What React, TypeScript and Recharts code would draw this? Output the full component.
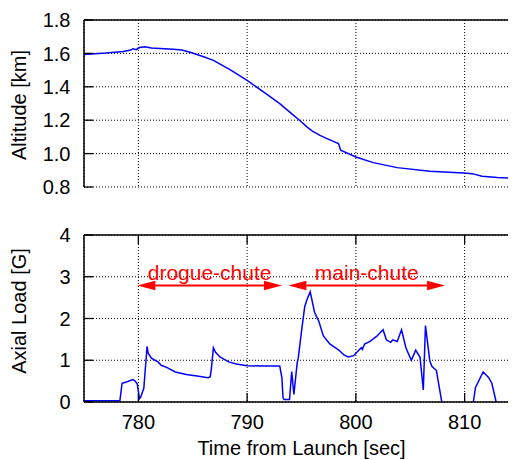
import { LineChart, Line, XAxis, YAxis, CartesianGrid, ReferenceLine } from 'recharts'

// altitude record (time from launch [sec], altitude [km])
const altTime = [775, 777, 778.6, 779.3, 779.5, 779.8, 780.1, 780.6, 781.2, 783.2, 784, 784.75, 786, 786.9, 788.5, 790, 791.5, 793, 794, 794.9, 795.5, 796, 796.7, 797.5, 798.4, 798.6, 800, 801.6, 803.8, 806.8, 809.9, 810.7, 811.6, 813, 815]
const altValue = [1.594, 1.602, 1.612, 1.62, 1.628, 1.622, 1.635, 1.64, 1.633, 1.625, 1.62, 1.607, 1.58, 1.558, 1.5, 1.438, 1.37, 1.299, 1.244, 1.195, 1.16, 1.135, 1.109, 1.085, 1.06, 1.02, 0.98, 0.946, 0.916, 0.894, 0.884, 0.88, 0.864, 0.857, 0.85]

// axial load record (time from launch [sec], load [G])
const loadTime = [775, 778.3, 778.5, 778.9, 779.5, 779.7, 779.9, 780.1, 780.2, 780.5, 780.8, 780.9, 781.2, 781.8, 782.1, 782.6, 783.4, 784.4, 785.4, 786.4, 786.6, 786.7, 786.9, 787.1, 787.5, 788.3, 789, 790, 791.5, 793, 793.2, 793.3, 793.4, 793.9, 794.1, 794.3, 794.6, 794.7, 795, 795.3, 795.5, 795.8, 796.2, 796.6, 797, 797.6, 798.4, 798.9, 799.3, 799.8, 800.2, 800.5, 800.6, 800.8, 801.3, 801.9, 802.5, 802.8, 803.2, 803.4, 803.8, 804.2, 804.6, 805.1, 805.5, 805.9, 806.2, 806.4, 806.8, 807, 807.4, 807.9, 808.5, 810.3, 810.8, 811, 811.7, 812.2, 812.5, 812.9, 813.5, 815]
const loadValue = [0.03, 0.03, 0.45, 0.48, 0.535, 0.5, 0.43, 0.08, 0.11, 0.33, 1.33, 1.17, 1.05, 0.96, 0.88, 0.83, 0.72, 0.66, 0.62, 0.58, 0.6, 0.77, 1.3, 1.19, 1.08, 0.96, 0.91, 0.87, 0.86, 0.86, 0.58, 0.1, 0.06, 0.06, 0.73, 0.18, 0.93, 1.05, 1.69, 2.29, 2.45, 2.64, 2.15, 1.93, 1.59, 1.39, 1.25, 1.13, 1.08, 1.11, 1.22, 1.3, 1.26, 1.39, 1.45, 1.57, 1.73, 1.49, 1.43, 1.49, 1.45, 1.73, 1.3, 1.0, 1.24, 1.07, 0.29, 1.83, 0.98, 0.85, 0.76, 0.0, -0.6, -0.6, 0.0, 0.35, 0.72, 0.59, 0.45, 0.0, -0.5, -0.5]

const timeTicks = [780, 790, 800, 810]
const altTicks = [0.8, 1.0, 1.2, 1.4, 1.6, 1.8]
const loadTicks = [0, 1, 2, 3, 4]

const noteLabels = ['drogue-chute', 'main-chute']
const noteStart = [779.9, 793.8]
const noteEnd = [793.2, 808.2]
const noteLevel = 2.79

const altData = altTime.map((t, i) => ({ t, v: altValue[i] }))
const loadData = loadTime.map((t, i) => ({ t, v: loadValue[i] }))

const W = 520
const AXIS_W = 76
const M_RIGHT = 9
const PLOT_L = AXIS_W
const PLOT_R = W - M_RIGHT
const TICK = 9
const FONT = 20
const FRAME = { stroke: '#000', strokeWidth: 1.5 }

function YTick(props: any) {
  const { y, payload, fmt } = props
  return (
    <g>
      <line x1={PLOT_L} x2={PLOT_L + TICK} y1={y} y2={y} stroke="#000" strokeWidth={1.3} />
      <line x1={PLOT_R - TICK} x2={PLOT_R} y1={y} y2={y} stroke="#000" strokeWidth={1.3} />
      <text x={PLOT_L - 13.5} y={y} dy="0.355em" textAnchor="end" fontSize={FONT} fill="#000">
        {fmt(payload.value)}
      </text>
    </g>
  )
}

function XTick(props: any) {
  const { x, payload, top, bottom, showText } = props
  return (
    <g>
      <line x1={x} x2={x} y1={bottom} y2={bottom - TICK} stroke="#000" strokeWidth={1.3} />
      <line x1={x} x2={x} y1={top} y2={top + TICK} stroke="#000" strokeWidth={1.3} />
      {showText && (
        <text x={x} y={bottom + 13} dy="0.71em" textAnchor="middle" fontSize={FONT} fill="#000">
          {payload.value}
        </text>
      )}
    </g>
  )
}

const yLabel = (text: string, cy: number) => () => (
  <text
    transform={`translate(10.5,${cy}) rotate(-90)`}
    textAnchor="middle"
    dominantBaseline="central"
    fontSize={FONT}
    fill="#000"
  >
    {text}
  </text>
)

const xLabel = (text: string, baseline: number) => () => (
  <text x={(PLOT_L + PLOT_R) / 2} y={baseline} textAnchor="middle" fontSize={FONT} fill="#000">
    {text}
  </text>
)

function ArrowShape(props: any) {
  const { x1, y1, x2, y2, text } = props
  const hl = 18
  const hw = 4.8
  return (
    <g>
      <line x1={x1 + hl} y1={y1} x2={x2 - hl} y2={y2} stroke="#ff0000" strokeWidth={1.8} />
      <polygon points={`${x1},${y1} ${x1 + hl},${y1 - hw} ${x1 + hl},${y1 + hw}`} fill="#ff0000" />
      <polygon points={`${x2},${y2} ${x2 - hl},${y2 - hw} ${x2 - hl},${y2 + hw}`} fill="#ff0000" />
      <text x={(x1 + x2) / 2} y={y1 - 6} textAnchor="middle" fontSize={21} fill="#ff0000">
        {text}
      </text>
    </g>
  )
}

export default function App() {
  return (
    <div style={{ width: 508, height: 452, overflow: 'hidden', fontFamily: '"Liberation Sans", Arial, sans-serif' }}>
      <LineChart width={W} height={195} data={altData} margin={{ top: 12, right: M_RIGHT, bottom: 16, left: 0 }}>
        <CartesianGrid stroke="#000" strokeDasharray="1 2" />
        <XAxis
          type="number"
          dataKey="t"
          domain={[775, 815]}
          ticks={timeTicks}
          interval={0}
          allowDataOverflow
          height={0}
          tickSize={0}
          tickLine={false}
          axisLine={FRAME}
          tick={<XTick top={12} bottom={179} showText={false} />}
        />
        <YAxis
          type="number"
          domain={[0.8, 1.8]}
          ticks={altTicks}
          interval={0}
          allowDataOverflow
          width={AXIS_W}
          tickSize={0}
          tickLine={false}
          axisLine={FRAME}
          tick={<YTick fmt={(v: number) => v.toFixed(1)} />}
          label={yLabel('Altitude [km]', 97)}
        />
        <ReferenceLine y={1.8} {...FRAME} />
        <Line type="linear" dataKey="v" stroke="#0000ff" strokeWidth={1.5} dot={false} isAnimationActive={false} />
      </LineChart>
      <LineChart width={W} height={257} data={loadData} margin={{ top: 32, right: M_RIGHT, bottom: 0, left: 0 }}>
        <CartesianGrid stroke="#000" strokeDasharray="1 2" />
        <XAxis
          type="number"
          dataKey="t"
          domain={[775, 815]}
          ticks={timeTicks}
          interval={0}
          allowDataOverflow
          height={58}
          tickSize={0}
          tickLine={false}
          axisLine={FRAME}
          tick={<XTick top={32} bottom={199} showText />}
          label={xLabel('Time from Launch [sec]', 252)}
        />
        <YAxis
          type="number"
          domain={[0, 4]}
          ticks={loadTicks}
          interval={0}
          allowDataOverflow
          width={AXIS_W}
          tickSize={0}
          tickLine={false}
          axisLine={FRAME}
          tick={<YTick fmt={(v: number) => String(v)} />}
          label={yLabel('Axial Load [G]', 108)}
        />
        <ReferenceLine y={4} {...FRAME} />
        <Line type="linear" dataKey="v" stroke="#0000ff" strokeWidth={1.5} dot={false} isAnimationActive={false} />
        {noteLabels.map((name, i) => (
          <ReferenceLine
            key={name}
            ifOverflow="visible"
            segment={[
              { x: noteStart[i], y: noteLevel },
              { x: noteEnd[i], y: noteLevel },
            ]}
            shape={(p: any) => <ArrowShape {...p} text={name} />}
          />
        ))}
      </LineChart>
    </div>
  )
}
